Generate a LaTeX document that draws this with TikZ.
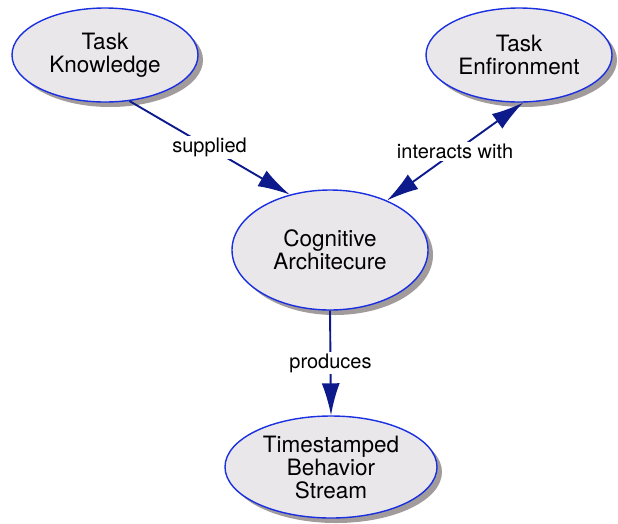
\documentclass[tikz,border=0pt]{standalone}
\usepackage{fontspec}
\setmainfont{TeX Gyre Heros}
\usetikzlibrary{shapes.geometric,shadows,arrows.meta}
\definecolor{nodefill}{HTML}{E9E7EA}
\definecolor{nodeline}{HTML}{1A30E0}
\definecolor{shadowgray}{HTML}{A19B9B}
\definecolor{edgeblue}{HTML}{0C1A8C}
\begin{document}
\begin{tikzpicture}[
    x=1pt, y=-1pt,
    concept/.style={ellipse, draw=nodeline, line width=1.4pt, fill=nodefill,
        inner sep=0pt, align=center, font=\fontsize{22.5}{23}\selectfont,
        drop shadow={shadow xshift=5pt, shadow yshift=-5pt, fill=shadowgray, opacity=1}},
    link/.style={draw=edgeblue, line width=1.9pt},
    linklabel/.style={fill=white, inner sep=2pt, font=\fontsize{20}{22}\selectfont}
]
    \useasboundingbox (0, 0) rectangle (618, 523);

    % Nodes
    \node[concept, minimum width=186pt, minimum height=94pt] (know) at (105, 55) {Task\\Knowledge};
    \node[concept, minimum width=186pt, minimum height=94pt] (env) at (519, 55) {Task\\Enfironment};
    \node[concept, minimum width=196pt, minimum height=120pt] (cog) at (330, 250) {Cognitive\\Architecure};
    \node[concept, minimum width=212pt, minimum height=102pt] (stream) at (331, 467) {Timestamped\\Behavior\\Stream};

    % Edges
    \draw[link, -{Latex[length=32pt, width=18pt]}] (know.-62) -- node[linklabel] {supplied} (cog.126);
    \draw[link, {Latex[length=32pt, width=18pt]}-{Latex[length=32pt, width=18pt]}] (env.-85) -- node[linklabel] {interacts with} (cog.41);
    \draw[link, -{Latex[length=32pt, width=18pt]}] (cog.south) -- node[linklabel] {produces} (stream.north);
\end{tikzpicture}
\end{document}
